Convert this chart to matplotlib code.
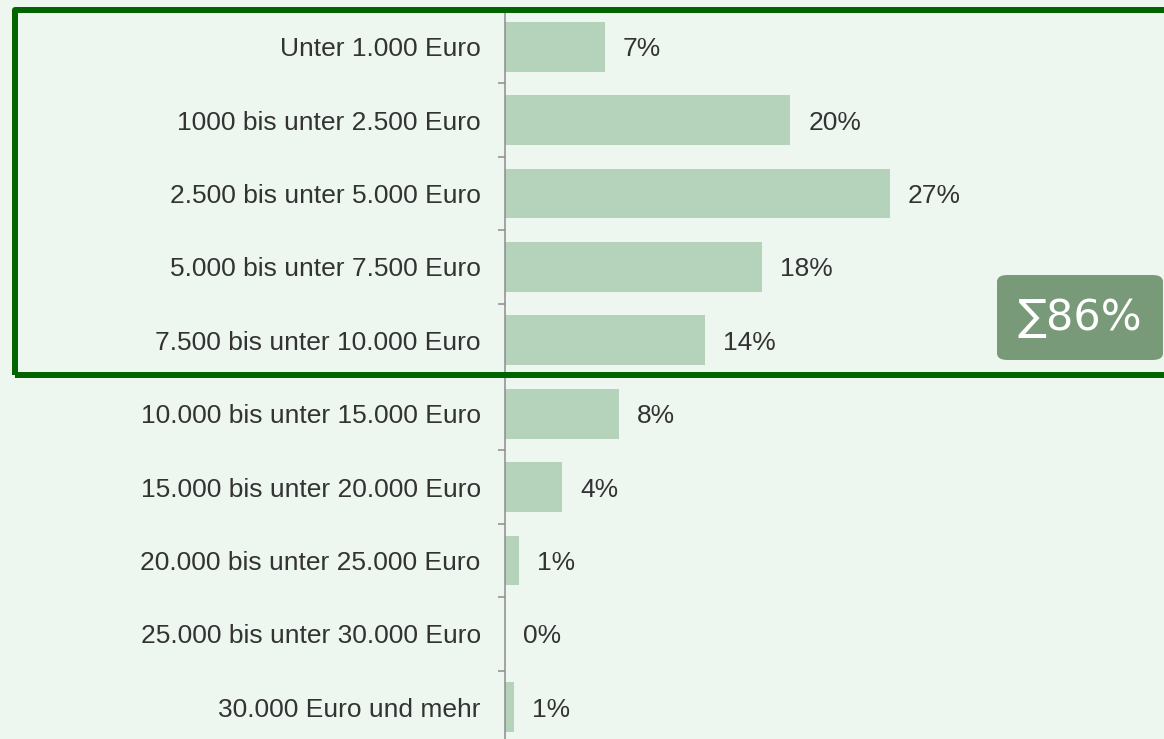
import matplotlib
matplotlib.use('Agg')
import matplotlib.pyplot as plt
from matplotlib.patches import Rectangle, FancyBboxPatch

# data
categories = ['Unter 1.000 Euro', '1000 bis unter 2.500 Euro', '2.500 bis unter 5.000 Euro',
              '5.000 bis unter 7.500 Euro', '7.500 bis unter 10.000 Euro',
              '10.000 bis unter 15.000 Euro', '15.000 bis unter 20.000 Euro',
              '20.000 bis unter 25.000 Euro', '25.000 bis unter 30.000 Euro',
              '30.000 Euro und mehr']
shares = [7, 20, 27, 18, 14, 8, 4, 1, 0, 0.6]
sum_label = '∑86%'

bg = '#EEF7EF'
bar_col = '#B5D3BB'
txt_col = '#333333'

W, H = 1164, 739
fig = plt.figure(figsize=(W / 100, H / 100), dpi=100, facecolor=bg)
ax = fig.add_axes([505 / W, -5 / H, (W - 505) / W, 734 / H])
ax.set_facecolor(bg)

ypos = list(range(len(categories)))
ax.barh(ypos, shares, height=0.68, color=bar_col, zorder=2)
for y, v in zip(ypos, shares):
    ax.annotate(f'{round(v)}%', (v, y), xytext=(13, 0), textcoords='offset points',
                va='center_baseline', ha='left', fontsize=19, color=txt_col,
                family='Liberation Sans')

ax.set_ylim(len(categories) - 0.5, -0.5)
ax.set_xlim(0, (W - 505) / 14.26)
ax.set_yticks(ypos)
ax.set_yticklabels(categories, fontsize=19, color=txt_col, family='Liberation Sans')
ax.set_yticks([i + 0.5 for i in ypos[:-1]], minor=True)
ax.tick_params(axis='y', which='major', length=0, pad=17.5)
ax.tick_params(axis='y', which='minor', length=5, width=1.1, color='#8c8c8c')
ax.set_xticks([])
for s in ['top', 'right', 'bottom']:
    ax.spines[s].set_visible(False)
ax.spines['left'].set_color('#8c8c8c')
ax.spines['left'].set_linewidth(1.1)

# highlight frame
frame = Rectangle((14.5 / W, 1 - 374.5 / H), (1175 - 14.5) / W, (374.5 - 9.7) / H,
                  transform=fig.transFigure, fill=False, edgecolor='#006400',
                  linewidth=4.3, joinstyle='round', zorder=10, clip_on=False)
fig.add_artist(frame)

# sum box
box = FancyBboxPatch((997 / W, 1 - 360 / H), (1163 - 997) / W, 85 / H,
                     boxstyle='round,pad=0,rounding_size=0.009',
                     transform=fig.transFigure, facecolor='#789A78',
                     edgecolor='none', zorder=11)
fig.add_artist(box)
fig.text(1080 / W, 1 - 318 / H, sum_label, ha='center', va='center',
         fontsize=31, color='white', family='DejaVu Sans', zorder=12)

fig.savefig('out.png', dpi=100, facecolor=bg)
